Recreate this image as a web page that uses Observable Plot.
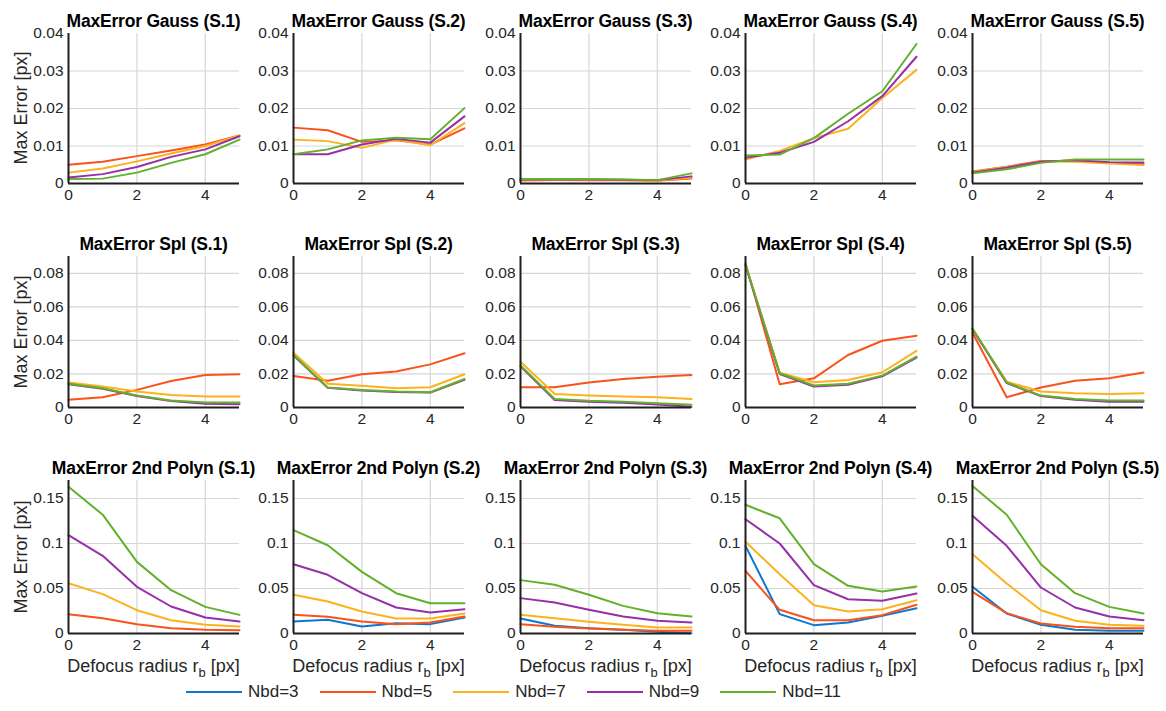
<!DOCTYPE html>
<html>
<head>
<meta charset="utf-8">
<script src="https://cdn.jsdelivr.net/npm/d3@7"></script>
<script src="https://cdn.jsdelivr.net/npm/@observablehq/plot@0.6"></script>
<style>
  body { margin: 0; background: #fff; }
  #root { position: relative; width: 1166px; height: 711px; background: #fff; overflow: hidden;
          font-family: "Liberation Sans", Arial, Helvetica, sans-serif; color: #262626; }
  .title { position: absolute; transform: translate(-50%, -50%); white-space: nowrap;
           font-weight: bold; font-size: 17.5px; color: #000; letter-spacing: -0.2px; }
  .ylab { position: absolute; transform: translate(-50%, -50%) rotate(-90deg); white-space: nowrap; font-size: 18px; }
  .xlab { position: absolute; transform: translate(-50%, -50%); white-space: nowrap; font-size: 18px; }
  .xlab sub { font-size: 0.72em; vertical-align: -0.45em; line-height: 0; }
  .panel { position: absolute; }
  #legend { position: absolute; left: 186px; top: 692px; transform: translateY(-50%); display: flex; align-items: center; font-size: 17px; }
  #legend .item { display: flex; align-items: center; margin-right: 21px; }
  #legend svg { margin-right: 6px; }
</style>
</head>
<body>
<div id="root"></div>
<script>
// ---------- data ----------
const X = [0, 1, 2, 3, 4, 5];
const SERIES = ["Nbd=3", "Nbd=5", "Nbd=7", "Nbd=9", "Nbd=11"];
const COLORS = ["#0a78d1", "#f9521a", "#fbb21c", "#962fa8", "#62b02b"];
const SETS = ["S.1", "S.2", "S.3", "S.4", "S.5"];
const ROW_TITLES = ["MaxError Gauss", "MaxError Spl", "MaxError 2nd Polyn"];
const Y_MAX = [0.04, 0.09, 0.17];
const Y_TICKS_GAUSS = [0, 0.01, 0.02, 0.03, 0.04];
const Y_TICKS_SPL = [0, 0.02, 0.04, 0.06, 0.08];
const Y_TICKS_POLY = [0, 0.05, 0.1, 0.15];
const X_TICKS = [0, 2, 4];
const Y_LABEL = "Max Error [px]";

// each panel: [Nbd=3, Nbd=5, Nbd=7, Nbd=9, Nbd=11]
const gaussS1 = [null,
  [0.0050, 0.0058, 0.0073, 0.0088, 0.0104, 0.0128],
  [0.0029, 0.0040, 0.0059, 0.0080, 0.0100, 0.0128],
  [0.0016, 0.0025, 0.0044, 0.0071, 0.0091, 0.0126],
  [0.0012, 0.0013, 0.0029, 0.0055, 0.0078, 0.0117]];
const gaussS2 = [null,
  [0.0149, 0.0142, 0.0111, 0.0115, 0.0104, 0.0147],
  [0.0117, 0.0113, 0.0095, 0.0117, 0.0102, 0.0161],
  [0.0078, 0.0078, 0.0104, 0.0119, 0.0109, 0.0179],
  [0.0078, 0.0091, 0.0115, 0.0122, 0.0118, 0.0201]];
const gaussS3 = [null,
  [0.0008, 0.0009, 0.0009, 0.0009, 0.0007, 0.0013],
  [0.0010, 0.0010, 0.0010, 0.0009, 0.0008, 0.0015],
  [0.0011, 0.0011, 0.0011, 0.0010, 0.0009, 0.0019],
  [0.0012, 0.0012, 0.0012, 0.0011, 0.0009, 0.0027]];
const gaussS4 = [null,
  null,
  [0.0064, 0.0087, 0.0121, 0.0146, 0.0228, 0.0303],
  [0.0069, 0.0082, 0.0111, 0.0166, 0.0233, 0.0338],
  [0.0075, 0.0077, 0.0121, 0.0186, 0.0246, 0.0372]];
const gaussS5 = [null,
  [0.0032, 0.0045, 0.0060, 0.0060, 0.0055, 0.0052],
  [0.0031, 0.0044, 0.0059, 0.0058, 0.0053, 0.0049],
  [0.0029, 0.0042, 0.0058, 0.0062, 0.0057, 0.0056],
  [0.0027, 0.0038, 0.0055, 0.0064, 0.0064, 0.0064]];

const splS1 = [null,
  [0.0046, 0.0061, 0.0105, 0.0158, 0.0194, 0.0198],
  [0.0149, 0.0125, 0.0095, 0.0075, 0.0065, 0.0065],
  [0.0138, 0.0112, 0.0069, 0.0038, 0.0022, 0.0020],
  [0.0141, 0.0115, 0.0071, 0.0042, 0.0030, 0.0030]];
const splS2 = [null,
  [0.0188, 0.0160, 0.0198, 0.0214, 0.0257, 0.0323],
  [0.0327, 0.0141, 0.0129, 0.0115, 0.0121, 0.0198],
  [0.0310, 0.0117, 0.0101, 0.0093, 0.0089, 0.0165],
  [0.0313, 0.0119, 0.0105, 0.0095, 0.0091, 0.0170]];
const splS3 = [null,
  [0.0121, 0.0121, 0.0149, 0.0170, 0.0184, 0.0194],
  [0.0273, 0.0081, 0.0071, 0.0065, 0.0061, 0.0051],
  [0.0245, 0.0045, 0.0034, 0.0028, 0.0018, 0.0004],
  [0.0250, 0.0051, 0.0040, 0.0034, 0.0026, 0.0016]];
const splS4 = [null,
  [0.0861, 0.0139, 0.0174, 0.0313, 0.0398, 0.0428],
  [0.0850, 0.0208, 0.0150, 0.0164, 0.0210, 0.0337],
  [0.0845, 0.0200, 0.0125, 0.0135, 0.0186, 0.0298],
  [0.0851, 0.0204, 0.0131, 0.0141, 0.0190, 0.0303]];
const splS5 = [null,
  [0.0446, 0.0061, 0.0119, 0.0160, 0.0174, 0.0208],
  [0.0465, 0.0154, 0.0095, 0.0085, 0.0081, 0.0085],
  [0.0468, 0.0145, 0.0068, 0.0046, 0.0034, 0.0034],
  [0.0471, 0.0149, 0.0071, 0.0051, 0.0042, 0.0042]];

const polyS1 = [null,
  [0.0215, 0.0170, 0.0104, 0.0059, 0.0041, 0.0037],
  [0.0559, 0.0437, 0.0259, 0.0148, 0.0096, 0.0078],
  [0.1093, 0.0863, 0.0519, 0.0300, 0.0178, 0.0133],
  [0.1630, 0.1320, 0.0796, 0.0481, 0.0296, 0.0207]];
const polyS2 = [
  [0.0133, 0.0152, 0.0078, 0.0115, 0.0104, 0.0178],
  [0.0207, 0.0185, 0.0133, 0.0104, 0.0122, 0.0189],
  [0.0430, 0.0356, 0.0244, 0.0167, 0.0167, 0.0222],
  [0.0770, 0.0652, 0.0448, 0.0289, 0.0233, 0.0270],
  [0.1148, 0.0981, 0.0685, 0.0448, 0.0337, 0.0337]];
const polyS3 = [
  [0.0167, 0.0085, 0.0059, 0.0041, 0.0019, 0.0004],
  [0.0104, 0.0074, 0.0056, 0.0041, 0.0030, 0.0030],
  [0.0207, 0.0170, 0.0130, 0.0096, 0.0067, 0.0067],
  [0.0393, 0.0344, 0.0263, 0.0189, 0.0141, 0.0122],
  [0.0593, 0.0541, 0.0430, 0.0307, 0.0226, 0.0189]];
const polyS4 = [
  [0.0974, 0.0215, 0.0093, 0.0122, 0.0196, 0.0281],
  [0.0696, 0.0263, 0.0148, 0.0148, 0.0204, 0.0319],
  [0.1019, 0.0659, 0.0315, 0.0244, 0.0270, 0.0370],
  [0.1270, 0.1000, 0.0537, 0.0381, 0.0363, 0.0444],
  [0.1430, 0.1280, 0.0770, 0.0530, 0.0467, 0.0522]];
const polyS5 = [
  [0.0519, 0.0222, 0.0096, 0.0041, 0.0030, 0.0030],
  [0.0463, 0.0226, 0.0111, 0.0074, 0.0059, 0.0059],
  [0.0881, 0.0556, 0.0259, 0.0141, 0.0096, 0.0085],
  [0.1307, 0.0974, 0.0511, 0.0289, 0.0189, 0.0148],
  [0.1640, 0.1320, 0.0770, 0.0448, 0.0296, 0.0222]];

const ROWS = [
  [gaussS1, gaussS2, gaussS3, gaussS4, gaussS5],
  [splS1, splS2, splS3, splS4, splS5],
  [polyS1, polyS2, polyS3, polyS4, polyS5]
];
const Y_TICKS = [Y_TICKS_GAUSS, Y_TICKS_SPL, Y_TICKS_POLY];

// ---------- layout ----------
const FONT = '"Liberation Sans", Arial, Helvetica, sans-serif';
const AXIS_LEFT = [68, 293, 520, 745, 972];
const PLOT_W = 171;
const ROW_TOP = [33, 256, 480];
const ROW_H = [150, 151, 153];
const ML = 50, MR = 6, MT = 12, MB = 26;

const root = document.getElementById("root");

function addDiv(cls, html, left, top) {
  const d = document.createElement("div");
  d.className = cls;
  d.innerHTML = html;
  d.style.left = left + "px";
  d.style.top = top + "px";
  root.appendChild(d);
  return d;
}

ROWS.forEach((row, r) => {
  const ticks = Y_TICKS[r];
  const ymax = Y_MAX[r];
  row.forEach((panelData, c) => {
    const marks = [
      Plot.ruleX(X_TICKS.filter(t => t > 0), {stroke: "#d6d6d6", strokeWidth: 1.2}),
      Plot.ruleY(ticks.filter(t => t > 0 && t < ymax), {stroke: "#d6d6d6", strokeWidth: 1.2})
    ];
    panelData.forEach((vals, s) => {
      if (!vals) return;
      const pts = X.map((x, i) => ({x, y: vals[i]}));
      marks.push(Plot.line(pts, {x: "x", y: "y", stroke: COLORS[s], strokeWidth: 2}));
    });
    marks.push(Plot.ruleX([0], {stroke: "#1f1f1f", strokeWidth: 2}));
    marks.push(Plot.ruleY([0], {stroke: "#1f1f1f", strokeWidth: 2}));

    const svg = Plot.plot({
      width: ML + PLOT_W + MR,
      height: MT + ROW_H[r] + MB,
      marginLeft: ML, marginRight: MR, marginTop: MT, marginBottom: MB,
      style: {fontFamily: FONT, fontSize: "15.5px", color: "#262626", background: "transparent", overflow: "visible"},
      x: {domain: [0, 5], ticks: X_TICKS, tickSize: 0, tickPadding: 5, label: null, tickFormat: d => String(d)},
      y: {domain: [0, ymax], ticks: ticks, tickSize: 0, tickPadding: 5, label: null, tickFormat: d => String(d)},
      marks
    });
    const holder = document.createElement("div");
    holder.className = "panel";
    holder.style.left = (AXIS_LEFT[c] - ML) + "px";
    holder.style.top = (ROW_TOP[r] - MT) + "px";
    holder.appendChild(svg);
    root.appendChild(holder);

    addDiv("title", `${ROW_TITLES[r]} (${SETS[c]})`, AXIS_LEFT[c] + PLOT_W / 2, ROW_TOP[r] - 12);
    if (r === 2) {
      addDiv("xlab", "Defocus radius r<sub>b</sub> [px]", AXIS_LEFT[c] + PLOT_W / 2, 666);
    }
  });
  addDiv("ylab", Y_LABEL, 21, ROW_TOP[r] + ROW_H[r] / 2);
});

// ---------- legend ----------
const legend = document.createElement("div");
legend.id = "legend";
SERIES.forEach((name, i) => {
  const item = document.createElement("div");
  item.className = "item";
  item.innerHTML = `<svg width="56" height="10"><line x1="0" x2="56" y1="5" y2="5" stroke="${COLORS[i]}" stroke-width="2.2"/></svg><span>${name}</span>`;
  legend.appendChild(item);
});
root.appendChild(legend);
</script>
</body>
</html>
